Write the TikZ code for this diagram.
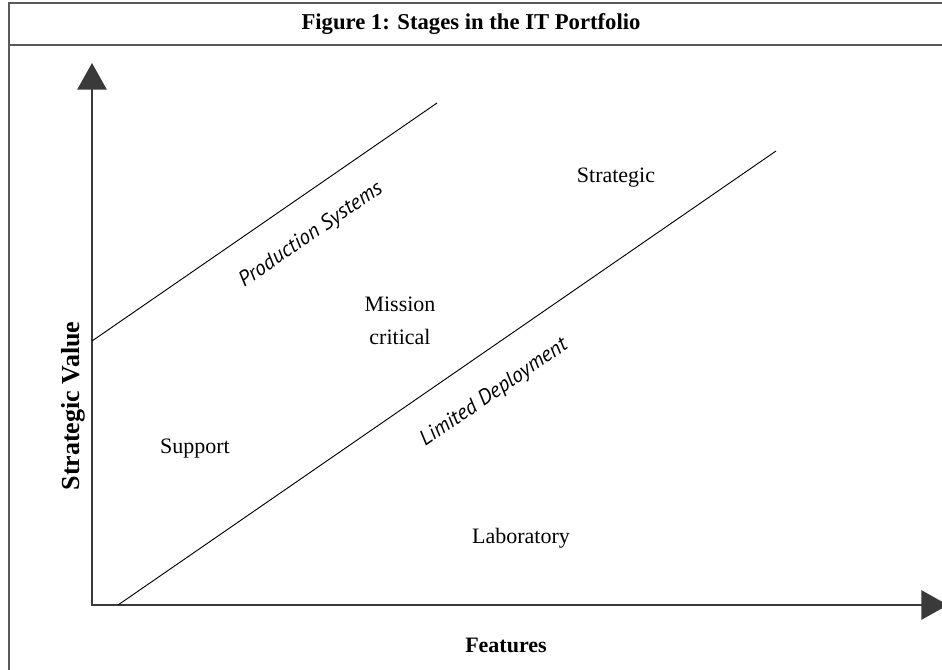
\documentclass[tikz,border=0pt]{standalone}
\usepackage{fontspec}
\setmainfont{Liberation Serif}
\newfontfamily\stagefont{PT Sans}
\usetikzlibrary{arrows.meta}
\definecolor{framegray}{HTML}{5A5A5A}
\definecolor{axisgray}{HTML}{3A3A3A}
\tikzset{
  zone/.style={font=\fontsize{16.5}{24.5}\selectfont, align=center},
  stage/.style={font=\stagefont\itshape\fontsize{16}{19}\selectfont, rotate=34.6},
  axlabel/.style={font=\bfseries\fontsize{16.5}{20}\selectfont},
  boundary/.style={line width=0.7pt},
  bigtip/.tip={Triangle[width=22pt,length=20pt]},
}
\begin{document}
\begin{tikzpicture}[x=0.75pt,y=-0.75pt]
\clip (0,0) rectangle (942,669);

% frame and title bar
\draw[framegray, line width=1.5pt] (8.5,3) rectangle (960,700);
\draw[framegray, line width=1.5pt] (8.5,45) -- (960,45);
\node[font=\bfseries\fontsize{17}{20}\selectfont] (title) at (471,24) {Figure 1: Stages in the IT Portfolio};

% axes
\coordinate (origin) at (92,605);
\coordinate (ytop) at (92,63);
\coordinate (xend) at (948,605);
\draw[axisgray, line width=1.3pt, bigtip-bigtip] (ytop) -- (origin) -- (xend);
\node[axlabel, font=\bfseries\fontsize{19.5}{22}\selectfont, rotate=90] (yname) at (73,406) {Strategic Value};
\node[axlabel] (xname) at (506,645) {Features};

% stage boundaries
\coordinate (ps-a) at (92,341);
\coordinate (ps-b) at (437,103);
\coordinate (ld-a) at (118,605);
\coordinate (ld-b) at (776,151);
\draw[boundary] (ps-a) -- (ps-b);
\draw[boundary] (ld-a) -- (ld-b);
\node[stage] (prod) at (311,235) {Production Systems};
\node[stage] (limdep) at (494,393) {Limited Deployment};

% regions
\node[zone] (strat) at (616,178) {Strategic};
\node[zone] (mission) at (400,321) {Mission\\critical};
\node[zone] (support) at (195,449) {Support};
\node[zone] (lab) at (521,538) {Laboratory};
\end{tikzpicture}
\end{document}
